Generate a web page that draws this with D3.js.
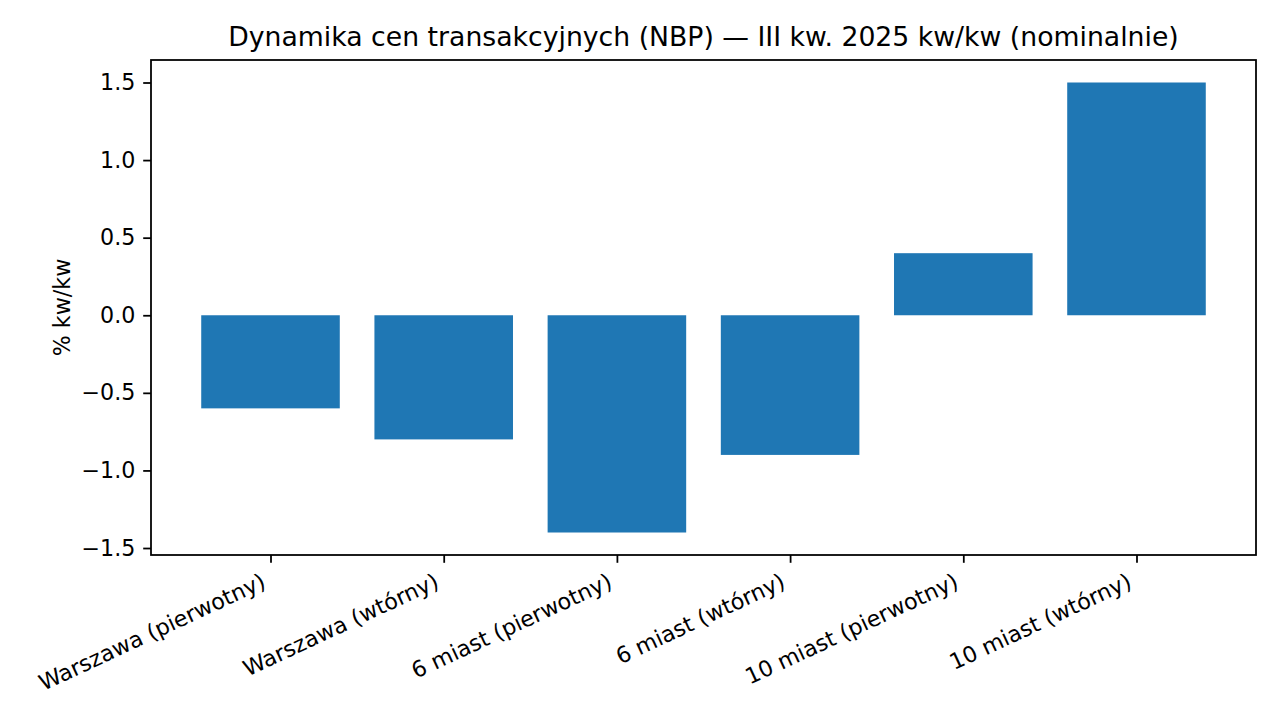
<!DOCTYPE html>
<html lang="pl">
<head>
<meta charset="UTF-8">
<script src="https://cdn.jsdelivr.net/npm/d3@7"></script>
<style>
  body { margin: 0; background: #fff; }
  svg { font-family: "DejaVu Sans", sans-serif; }
</style>
</head>
<body>
<svg id="chart" width="1280" height="720"></svg>
<script>
const categories = [
  "Warszawa (pierwotny)",
  "Warszawa (wtórny)",
  "6 miast (pierwotny)",
  "6 miast (wtórny)",
  "10 miast (pierwotny)",
  "10 miast (wtórny)"
];
const values = [-0.6, -0.8, -1.4, -0.9, 0.4, 1.5];
const yTicks = [-1.5, -1.0, -0.5, 0.0, 0.5, 1.0, 1.5];
const title = "Dynamika cen transakcyjnych (NBP) — III kw. 2025 kw/kw (nominalnie)";
const yLabel = "% kw/kw";

const svg = d3.select("#chart");
const plotL = 151, plotR = 1256, plotT = 60, plotB = 555;
const tickLen = 7.8, tickPad = 7.8, fontSize = 22.2, lw = 1.78;

// matplotlib-like margins (5%)
const n = categories.length;
const xPad = (n - 0.2) * 0.05;
const x = d3.scaleLinear().domain([-0.4 - xPad, n - 0.6 + xPad]).range([plotL, plotR]);
const yMin = d3.min(values), yMax = d3.max(values);
const yPad = (yMax - yMin) * 0.05;
const y = d3.scaleLinear().domain([yMin - yPad, yMax + yPad]).range([plotB, plotT]);

svg.selectAll("rect.bar")
  .data(values)
  .enter().append("rect")
  .attr("class", "bar")
  .attr("x", (d, i) => x(i - 0.4))
  .attr("width", (d, i) => x(i + 0.4) - x(i - 0.4))
  .attr("y", d => y(Math.max(0, d)))
  .attr("height", d => Math.abs(y(d) - y(0)))
  .attr("fill", "#1f77b4");

// y axis
const fmt = d3.format(".1f");
const yAxis = svg.append("g").attr("transform", `translate(${plotL},0)`)
  .call(d3.axisLeft(y).tickValues(yTicks).tickFormat(fmt).tickSize(tickLen).tickPadding(tickPad));
yAxis.select(".domain").remove();
yAxis.selectAll("line").attr("stroke", "#000").attr("stroke-width", lw);
yAxis.selectAll("text").attr("font-size", fontSize).attr("font-family", "DejaVu Sans").attr("fill", "#000");

// x axis
const xAxis = svg.append("g").attr("transform", `translate(0,${plotB})`)
  .call(d3.axisBottom(x).tickValues(d3.range(n)).tickFormat(i => categories[i]).tickSize(tickLen).tickPadding(0));
xAxis.select(".domain").remove();
xAxis.selectAll("line").attr("stroke", "#000").attr("stroke-width", lw);
const lineH = fontSize * 1.17;
xAxis.selectAll("text")
  .attr("font-size", fontSize).attr("font-family", "DejaVu Sans").attr("fill", "#000")
  .attr("text-anchor", "end")
  .attr("dy", null)
  .attr("dominant-baseline", "hanging")
  .attr("y", 0)
  .attr("transform", `translate(${-lineH * Math.sin(25 * Math.PI / 180)},${tickLen + tickPad + 1}) rotate(-25)`);

// frame
svg.append("rect")
  .attr("x", plotL).attr("y", plotT)
  .attr("width", plotR - plotL).attr("height", plotB - plotT)
  .attr("fill", "none").attr("stroke", "#000").attr("stroke-width", lw);

// title
svg.append("text")
  .attr("x", (plotL + plotR) / 2).attr("y", plotT - 14)
  .attr("text-anchor", "middle")
  .attr("font-size", 26.7).attr("fill", "#000")
  .text(title);

// y label
svg.append("text")
  .attr("transform", `translate(70,${(plotT + plotB) / 2}) rotate(-90)`)
  .attr("text-anchor", "middle")
  .attr("font-size", fontSize).attr("fill", "#000")
  .text(yLabel);
</script>
</body>
</html>
